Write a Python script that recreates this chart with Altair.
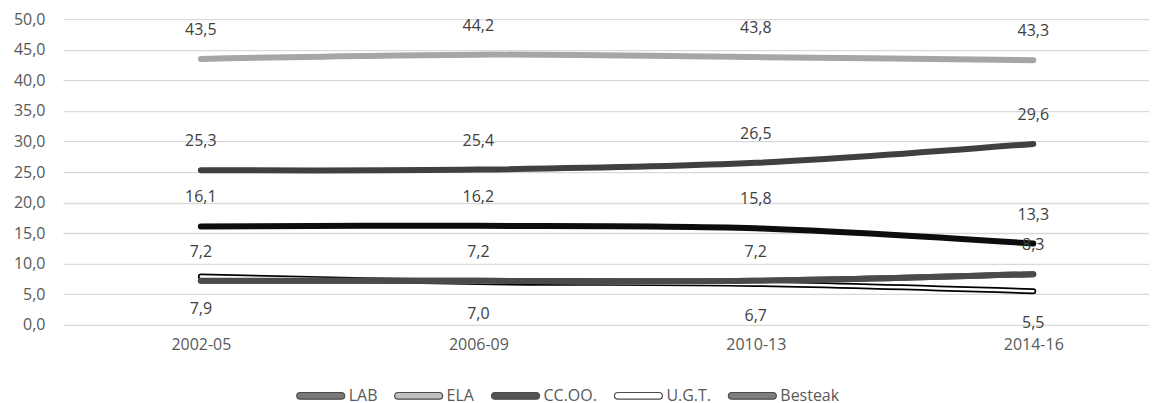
import altair as alt
import pandas as pd

periods = ["2002-05", "2006-09", "2010-13", "2014-16"]
series_names = ["LAB", "ELA", "CC.OO.", "U.G.T.", "Besteak"]
lab = [25.3, 25.4, 26.5, 29.6]
ela = [43.5, 44.2, 43.8, 43.3]
ccoo = [16.1, 16.2, 15.8, 13.3]
ugt = [7.9, 7.0, 6.7, 5.5]
besteak = [7.2, 7.2, 7.2, 8.3]
y_ticks = [0, 5, 10, 15, 20, 25, 30, 35, 40, 45, 50]

line_colors = ["#404040", "#a6a6a6", "#0d0d0d", "#000000", "#4a4a4a"]
fill_colors = ["#404040", "#a6a6a6", "#0d0d0d", "#ffffff", "#4a4a4a"]
label_pos = ["above", "above", "above", "below", "above"]

rows = []
for name, vals, pos in zip(series_names, [lab, ela, ccoo, ugt, besteak], label_pos):
    for i, (p, v) in enumerate(zip(periods, vals)):
        rows.append({"series": name, "period": p, "idx": i, "value": v, "pos": pos})
df = pd.DataFrame(rows)

FONT = "Open Sans"
FS = 16
TXT = "#595959"

period_expr = "[" + ",".join("'%s'" % p for p in periods) + "][datum.value]"

x_enc = alt.X(
    "idx:Q",
    scale=alt.Scale(domain=[-0.497, 3.417], nice=False, zero=False),
    axis=alt.Axis(values=[0, 1, 2, 3], labelExpr=period_expr, grid=False, domain=False,
                  ticks=False, labelPadding=12, labelFont=FONT, labelFontSize=FS,
                  labelColor=TXT, labelOverlap=False, title=None),
)
y_enc = alt.Y(
    "value:Q",
    scale=alt.Scale(domain=[0, 50], nice=False),
    axis=alt.Axis(values=y_ticks,
                  labelExpr="replace(format(datum.value, '.1f'), '.', ',')",
                  grid=True, gridColor="#d9d9d9", gridWidth=1.3, domain=False, ticks=False,
                  labelPadding=18, labelFont=FONT, labelFontSize=FS, labelColor=TXT,
                  labelOverlap=False, title=None),
)

base = alt.Chart(df)

outer = base.mark_line(strokeWidth=6, strokeCap="round", interpolate="catmull-rom").encode(
    x=x_enc, y=y_enc,
    color=alt.Color("series:N", scale=alt.Scale(domain=series_names, range=line_colors), legend=None),
    detail="series:N",
)

ugt_inner = base.transform_filter(alt.datum.series == "U.G.T.").mark_line(
    strokeWidth=2.6, strokeCap="round", interpolate="catmull-rom", color="#ffffff"
).encode(x=x_enc, y=y_enc)

besteak_top = base.transform_filter(alt.datum.series == "Besteak").mark_line(
    strokeWidth=6, strokeCap="round", interpolate="catmull-rom", color="#4a4a4a"
).encode(x=x_enc, y=y_enc)

labels_above = base.transform_filter(alt.datum.pos == "above").transform_calculate(
    label="replace(format(datum.value, '.1f'), '.', ',')"
).mark_text(dy=-29, fontSize=FS, font=FONT, color="#404040").encode(
    x=x_enc, y=y_enc, text="label:N"
)
labels_below = base.transform_filter(alt.datum.pos == "below").transform_calculate(
    label="replace(format(datum.value, '.1f'), '.', ',')"
).mark_text(dy=32, fontSize=FS, font=FONT, color="#404040").encode(
    x=x_enc, y=y_enc, text="label:N"
)

sym_path = "M-0.86,-0.14 L0.86,-0.14 A0.14,0.14 0 0 1 0.86,0.14 L-0.86,0.14 A0.14,0.14 0 0 1 -0.86,-0.14 Z"
leg = alt.Legend(
    title=None, orient="none", legendX=233, legendY=352, direction="horizontal",
    symbolType=sym_path, symbolSize=2300, symbolStrokeWidth=1.2, symbolStrokeColor="#000000",
    labelFont=FONT, labelFontSize=FS, labelColor=TXT, labelOffset=3,
    columnPadding=14,
)
legend_layer = base.mark_point(shape=sym_path, size=0, filled=True).encode(
    x=x_enc, y=y_enc,
    fill=alt.Fill("series:N", scale=alt.Scale(range=fill_colors), sort=series_names, legend=leg),
)

chart = alt.layer(outer, ugt_inner, besteak_top, labels_above, labels_below, legend_layer).properties(
    width=1087, height=306,
    padding={"left": 5, "top": 3, "right": 0, "bottom": 0},
).configure_view(stroke=None)

chart.save("out.html", embed_options={"renderer": "svg", "actions": False})
